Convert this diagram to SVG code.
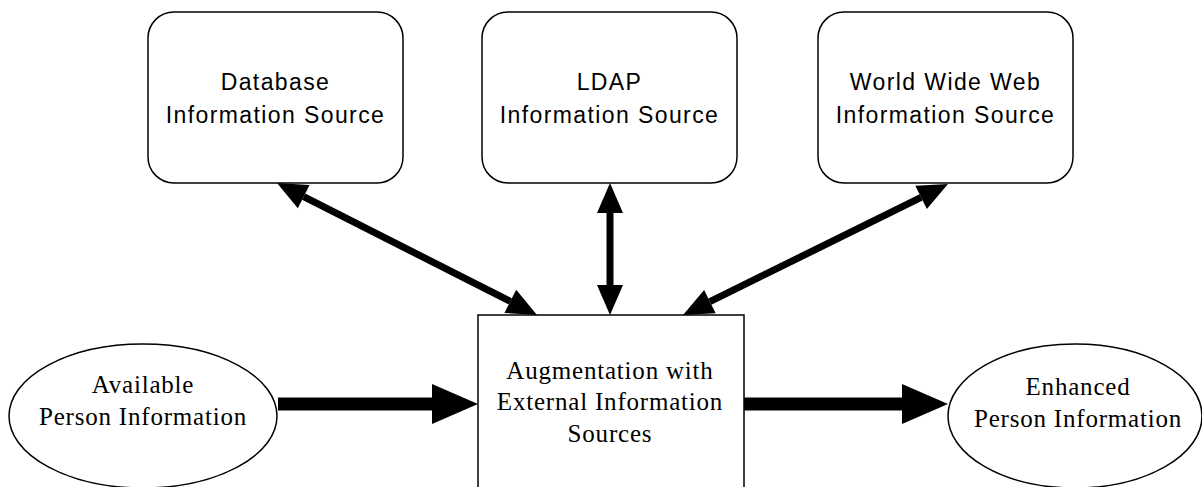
<svg xmlns="http://www.w3.org/2000/svg" width="1202" height="487" viewBox="0 0 1202 487">
<style>
.box{fill:#fff;stroke:#000;stroke-width:1.5}
.sans{font-family:"Liberation Sans",Arial,sans-serif;font-size:23px;letter-spacing:1.4px;text-anchor:middle;fill:#000}
.serif{font-family:"Liberation Serif","Times New Roman",serif;font-size:25px;letter-spacing:0.8px;text-anchor:middle;fill:#000}
.thin{stroke:#000;stroke-width:7;fill:none;marker-start:url(#hs);marker-end:url(#hs)}
.thick{stroke:#000;stroke-width:13;fill:none;marker-end:url(#hb)}
</style>
<defs>
<marker id="hs" markerUnits="userSpaceOnUse" markerWidth="30" markerHeight="26" refX="0" refY="13" orient="auto-start-reverse" overflow="visible"><path d="M0,0 L30,13 L0,26 z" fill="#000"/></marker>
<marker id="hb" markerUnits="userSpaceOnUse" markerWidth="46" markerHeight="40" refX="0" refY="20" orient="auto" overflow="visible"><path d="M0,0 L46,20 L0,40 z" fill="#000"/></marker>
</defs>
<rect width="1202" height="487" fill="#fff"/>
<g id="connectors">
<line class="thin" x1="303.7" y1="196.6" x2="510.3" y2="301.4"/>
<line class="thin" x1="610" y1="213" x2="610" y2="285"/>
<line class="thin" x1="921.1" y1="197.3" x2="709.9" y2="301.7"/>
<line class="thick" x1="278" y1="404" x2="432" y2="404"/>
<line class="thick" x1="744" y1="404" x2="902" y2="404"/>
</g>
<g id="db">
<rect class="box" x="148" y="12" width="255" height="171" rx="26"/>
<text class="sans" x="275.5" y="90">Database</text>
<text class="sans" x="275.5" y="123">Information Source</text>
</g>
<g id="ldap">
<rect class="box" x="482" y="12" width="255" height="171" rx="26"/>
<text class="sans" x="609.5" y="90">LDAP</text>
<text class="sans" x="609.5" y="123">Information Source</text>
</g>
<g id="www">
<rect class="box" x="818" y="12" width="255" height="171" rx="26"/>
<text class="sans" x="945.5" y="90">World Wide Web</text>
<text class="sans" x="945.5" y="123">Information Source</text>
</g>
<g id="available">
<ellipse class="box" cx="143" cy="416" rx="134" ry="72"/>
<text class="serif" x="143" y="393">Available</text>
<text class="serif" x="143" y="425">Person Information</text>
</g>
<g id="augment">
<rect class="box" x="478" y="315" width="266" height="190"/>
<text class="serif" x="610" y="379">Augmentation with</text>
<text class="serif" x="610" y="410">External Information</text>
<text class="serif" x="610" y="442">Sources</text>
</g>
<g id="enhanced">
<ellipse class="box" cx="1075" cy="416" rx="127" ry="72"/>
<text class="serif" x="1078" y="395">Enhanced</text>
<text class="serif" x="1078" y="427">Person Information</text>
</g>
</svg>
